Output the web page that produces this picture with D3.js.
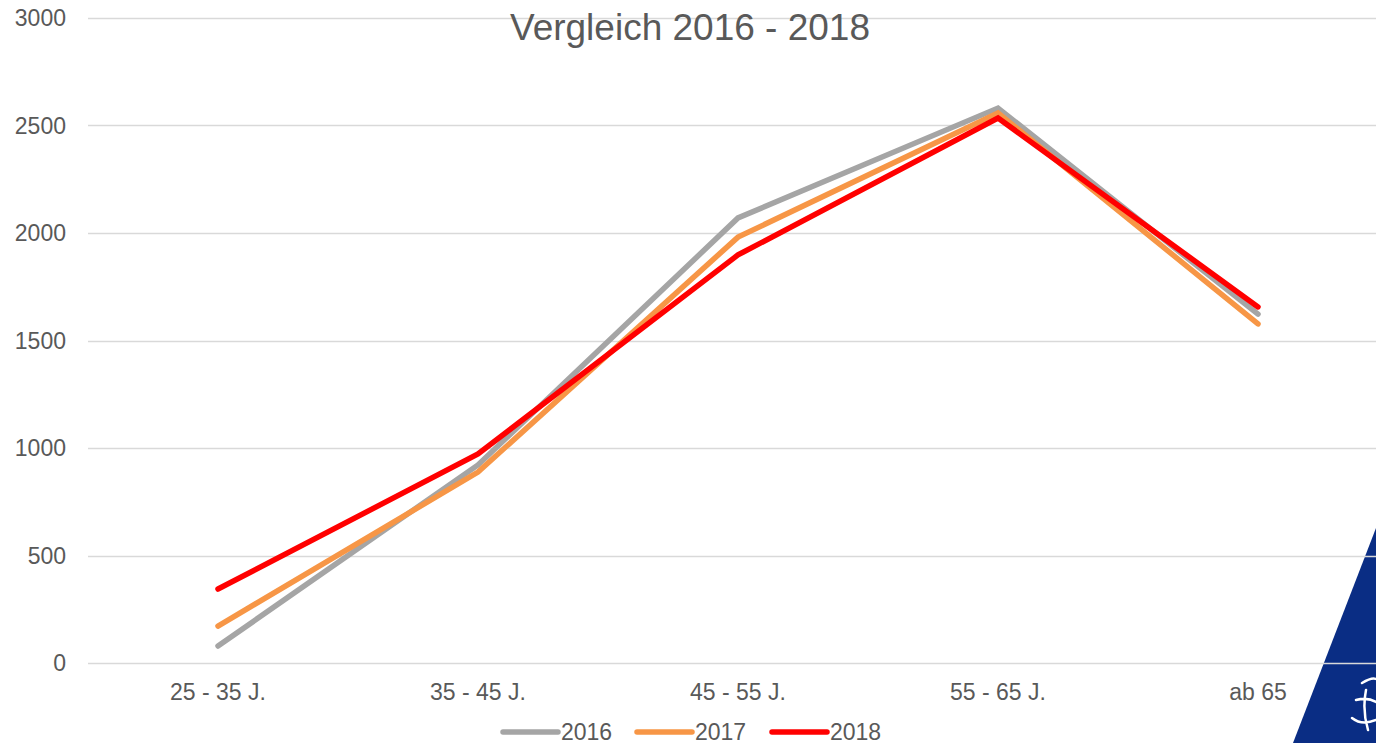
<!DOCTYPE html>
<html>
<head>
<meta charset="utf-8">
<script src="https://cdn.jsdelivr.net/npm/d3@7"></script>
<style>
  body { margin: 0; background: #fff; }
  svg { display: block; font-family: "Liberation Sans", Arial, sans-serif; }
</style>
</head>
<body>
<svg id="chart" width="1376" height="743"></svg>
<script>
const categories = ['25 - 35 J.', '35 - 45 J.', '45 - 55 J.', '55 - 65 J.', 'ab 65'];
const years = ['2016', '2017', '2018'];
const values2016 = [79, 921, 2070, 2581, 1623];
const values2017 = [172, 888, 1981, 2558, 1577];
const values2018 = [344, 972, 1898, 2535, 1656];
const yTicks = [0, 500, 1000, 1500, 2000, 2500, 3000];
const colors = ['#a5a5a5', '#f79646', '#ff0000'];

const series = [values2016, values2017, values2018].map((vals, i) => ({
    name: years[i],
    color: colors[i],
    points: vals.map((v, j) => ({ cat: categories[j], value: v }))
}));

const svg = d3.select('#chart');
const width = 1376;
const height = 743;
const margin = { left: 88, top: 18, bottom: 80 };

const x = d3.scaleBand()
    .domain(categories)
    .range([margin.left, margin.left + 260 * categories.length]);

const y = d3.scaleLinear()
    .domain([0, 3000])
    .range([663, margin.top]);

// blue corner decoration (drawn first, grid sits on top)
const corner = svg.append('g');
corner.append('path')
    .attr('d', 'M1376,528 L1376,743 L1293,743 Z')
    .attr('fill', '#0a2d84');
corner.append('path')
    .attr('d', 'M1362,683 q10,-6 14,-4 M1356,700 q12,-3 20,2 M1352,718 q10,8 24,2 M1366,690 q-4,20 2,40')
    .attr('fill', 'none')
    .attr('stroke', '#fff')
    .attr('stroke-width', 2.5)
    .attr('stroke-linecap', 'round');

// gridlines
svg.append('g')
    .selectAll('line')
    .data(yTicks)
    .join('line')
    .attr('x1', margin.left)
    .attr('x2', width)
    .attr('y1', d => Math.round(y(d)) + 0.5)
    .attr('y2', d => Math.round(y(d)) + 0.5)
    .attr('stroke', '#d9d9d9')
    .attr('stroke-width', 1.3);

// y axis labels
svg.append('g')
    .selectAll('text')
    .data(yTicks)
    .join('text')
    .attr('x', 66)
    .attr('y', d => y(d))
    .attr('dy', '0.35em')
    .attr('text-anchor', 'end')
    .attr('font-size', 23)
    .attr('fill', '#595959')
    .text(d => d);

// x axis labels
svg.append('g')
    .selectAll('text')
    .data(categories)
    .join('text')
    .attr('x', d => x(d) + x.bandwidth() / 2)
    .attr('y', 700)
    .attr('text-anchor', 'middle')
    .attr('font-size', 23)
    .attr('fill', '#595959')
    .text(d => d);

// lines
const line = d3.line()
    .x(d => x(d.cat) + x.bandwidth() / 2)
    .y(d => y(d.value));

svg.append('g')
    .selectAll('path')
    .data(series)
    .join('path')
    .attr('d', d => line(d.points))
    .attr('fill', 'none')
    .attr('stroke', d => d.color)
    .attr('stroke-width', 5.5)
    .attr('stroke-linecap', 'round')
    .attr('stroke-linejoin', 'miter');

// title
svg.append('text')
    .attr('x', 690)
    .attr('y', 40)
    .attr('text-anchor', 'middle')
    .attr('font-size', 37)
    .attr('fill', '#595959')
    .text('Vergleich 2016 - 2018');

// legend
const legendX = [503, 637, 772];
const legend = svg.append('g')
    .selectAll('g')
    .data(series)
    .join('g')
    .attr('transform', (d, i) => `translate(${legendX[i]}, 732)`);
legend.append('line')
    .attr('x1', 0)
    .attr('x2', 55)
    .attr('stroke', d => d.color)
    .attr('stroke-width', 5.5)
    .attr('stroke-linecap', 'round');
legend.append('text')
    .attr('x', 58)
    .attr('dy', '0.35em')
    .attr('font-size', 23)
    .attr('fill', '#595959')
    .text(d => d.name);
</script>
</body>
</html>
